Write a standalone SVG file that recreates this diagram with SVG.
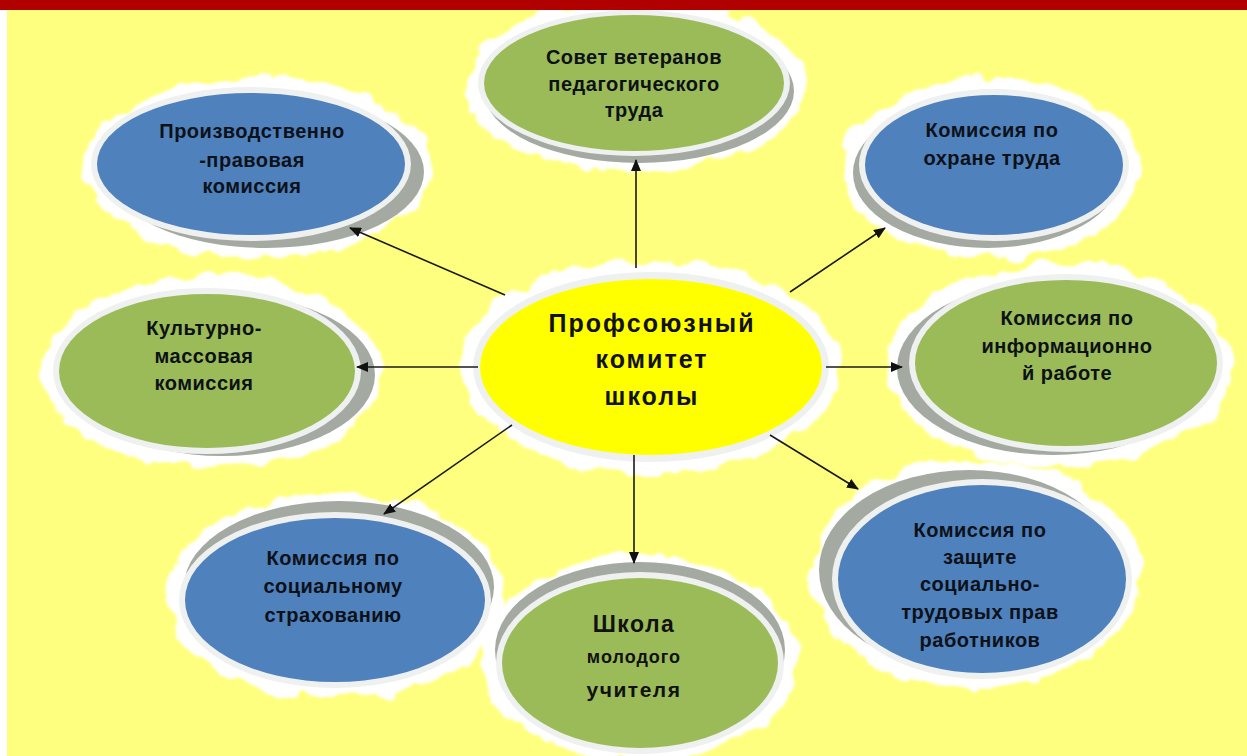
<svg xmlns="http://www.w3.org/2000/svg" width="1247" height="756" viewBox="0 0 1247 756">
<defs>
<filter id="rag" x="-25%" y="-25%" width="150%" height="150%">
<feTurbulence type="fractalNoise" baseFrequency="0.035" numOctaves="3" seed="7" result="n"/>
<feDisplacementMap in="SourceGraphic" in2="n" scale="20" xChannelSelector="R" yChannelSelector="G" result="d"/>
<feGaussianBlur in="d" stdDeviation="1.2"/>
</filter>
<marker id="ah" viewBox="0 0 12 10" refX="11" refY="5" markerWidth="12" markerHeight="10" markerUnits="userSpaceOnUse" orient="auto">
<path d="M0,0 L12,5 L0,10 Z" fill="#111"/>
</marker>
</defs>
<style>
.halo{fill:#ffffff;filter:url(#rag)}
.sh{fill:#a4a9a2}
.ring{fill:#eef1ef}
.blue{fill:#4f81bd}
.green{fill:#9bbb59}
.yel{fill:#ffff00}
.t{font-family:"Liberation Sans",Arial,sans-serif;font-weight:bold;font-size:20px;letter-spacing:0.5px;text-anchor:middle;fill:#0d1118}
.big{font-size:25px;letter-spacing:2px;fill:#111}
.con line{stroke:#1a1a1a;stroke-width:1.6;marker-end:url(#ah)}
</style>
<rect x="0" y="0" width="1247" height="756" fill="#ffffff"/>
<rect x="7" y="0" width="1240" height="756" fill="#ffff7f"/>

<g id="n-top">
<ellipse class="halo" cx="636" cy="86" rx="170" ry="86"/>
<ellipse class="sh" cx="639" cy="91" rx="155" ry="72"/>
<ellipse class="ring" cx="634" cy="83" rx="156" ry="73"/>
<ellipse class="green" cx="634" cy="83" rx="150" ry="68"/>
<text class="t" x="634" y="64">Совет ветеранов</text>
<text class="t" x="634" y="91">педагогического</text>
<text class="t" x="634" y="117">труда</text>
</g>

<g id="n-tl">
<ellipse class="halo" cx="258" cy="168" rx="176" ry="90"/>
<ellipse class="sh" cx="266" cy="172" rx="158" ry="76"/>
<ellipse class="ring" cx="251" cy="164" rx="160" ry="77"/>
<ellipse class="blue" cx="251" cy="164" rx="154" ry="71"/>
<text class="t" x="252" y="138">Производственно</text>
<text class="t" x="252" y="167">-правовая</text>
<text class="t" x="252" y="193">комиссия</text>
</g>

<g id="n-tr">
<ellipse class="halo" cx="992" cy="168" rx="150" ry="90"/>
<ellipse class="sh" cx="987" cy="173" rx="134" ry="75"/>
<ellipse class="ring" cx="994" cy="165" rx="135" ry="76"/>
<ellipse class="blue" cx="994" cy="165" rx="129" ry="70"/>
<text class="t" x="992" y="137">Комиссия по</text>
<text class="t" x="992" y="165">охране труда</text>
</g>

<g id="n-center">
<ellipse class="halo" cx="651" cy="367" rx="190" ry="106"/>
<ellipse class="ring" cx="651" cy="367" rx="178" ry="95"/>
<ellipse class="yel" cx="651" cy="367" rx="171" ry="88"/>
<text class="t big" x="652" y="332">Профсоюзный</text>
<text class="t big" x="652" y="368">комитет</text>
<text class="t big" x="652" y="405">школы</text>
</g>

<g id="n-left">
<ellipse class="halo" cx="213" cy="372" rx="170" ry="96"/>
<ellipse class="sh" cx="222" cy="375" rx="153" ry="81"/>
<ellipse class="ring" cx="207" cy="371" rx="154" ry="83"/>
<ellipse class="green" cx="207" cy="371" rx="148" ry="77"/>
<text class="t" x="204" y="335">Культурно-</text>
<text class="t" x="204" y="363">массовая</text>
<text class="t" x="204" y="390">комиссия</text>
</g>

<g id="n-right">
<ellipse class="halo" cx="1060" cy="365" rx="172" ry="102"/>
<ellipse class="sh" cx="1053" cy="368" rx="156" ry="87"/>
<ellipse class="ring" cx="1066" cy="363" rx="157" ry="89"/>
<ellipse class="green" cx="1066" cy="363" rx="151" ry="83"/>
<text class="t" x="1067" y="325">Комиссия по</text>
<text class="t" x="1067" y="353">информационно</text>
<text class="t" x="1067" y="380">й работе</text>
</g>

<g id="n-bl">
<ellipse class="halo" cx="336" cy="596" rx="170" ry="102"/>
<ellipse class="sh" cx="339" cy="587" rx="155" ry="86"/>
<ellipse class="ring" cx="335" cy="600" rx="156" ry="88"/>
<ellipse class="blue" cx="335" cy="600" rx="150" ry="82"/>
<text class="t" x="333" y="565">Комиссия по</text>
<text class="t" x="333" y="593">социальному</text>
<text class="t" x="333" y="622">страхованию</text>
</g>

<g id="n-bottom">
<ellipse class="halo" cx="640" cy="658" rx="158" ry="104"/>
<ellipse class="sh" cx="640" cy="650" rx="145" ry="88"/>
<ellipse class="ring" cx="640" cy="663" rx="144" ry="91"/>
<ellipse class="green" cx="640" cy="663" rx="138" ry="85"/>
<text class="t" x="634" y="632" style="font-size:23px;letter-spacing:1.5px;fill:#111">Школа</text>
<text class="t" x="634" y="663" style="font-size:18px;letter-spacing:1px;fill:#111">молодого</text>
<text class="t" x="634" y="697" style="font-size:21px;letter-spacing:1.5px;fill:#111">учителя</text>
</g>

<g id="n-br">
<ellipse class="halo" cx="976" cy="574" rx="166" ry="114"/>
<ellipse class="sh" cx="969" cy="570" rx="150" ry="100"/>
<ellipse class="ring" cx="982" cy="579" rx="150" ry="100"/>
<ellipse class="blue" cx="982" cy="579" rx="144" ry="94"/>
<text class="t" x="980" y="537">Комиссия по</text>
<text class="t" x="980" y="564">защите</text>
<text class="t" x="980" y="591">социально-</text>
<text class="t" x="980" y="619">трудовых прав</text>
<text class="t" x="980" y="647">работников</text>
</g>

<g id="connectors" class="con">
<line x1="636" y1="268" x2="636" y2="160"/>
<line x1="505" y1="295" x2="350" y2="228"/>
<line x1="790" y1="292" x2="885" y2="228"/>
<line x1="478" y1="367" x2="357" y2="367"/>
<line x1="826" y1="367" x2="902" y2="367"/>
<line x1="512" y1="425" x2="384" y2="514"/>
<line x1="634" y1="455" x2="634" y2="563"/>
<line x1="770" y1="435" x2="858" y2="489"/>
</g>

<rect x="0" y="0" width="1247" height="10" fill="#b00000"/>
</svg>
